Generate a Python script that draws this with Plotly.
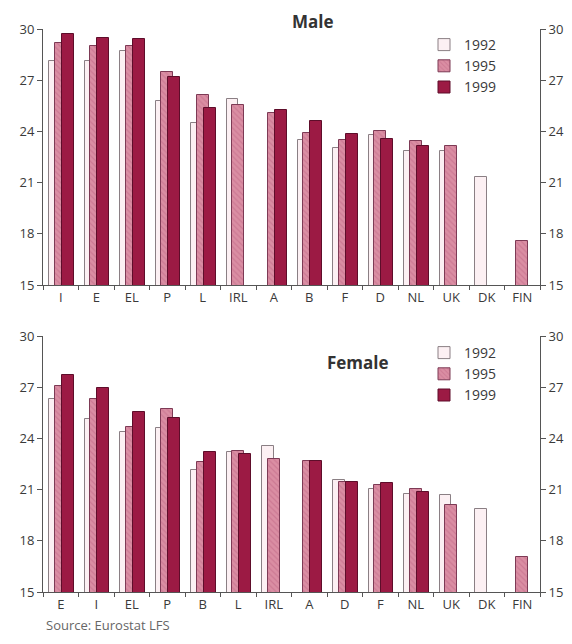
import plotly.graph_objects as go

years = ["1992", "1995", "1999"]

male_cats = ["I", "E", "EL", "P", "L", "IRL", "A", "B", "F", "D", "NL", "UK", "DK", "FIN"]
male_1992 = [28.1, 28.1, 28.7, 25.8, 24.5, 25.9, None, 23.5, 23.05, 23.8, 22.85, 22.85, 21.3, None]
male_1995 = [29.2, 29.0, 29.0, 27.5, 26.15, 25.55, 25.1, 23.9, 23.5, 24.0, 23.45, 23.15, None, 17.55]
male_1999 = [29.7, 29.45, 29.4, 27.2, 25.4, None, 25.25, 24.6, 23.85, 23.57, 23.15, None, None, None]

female_cats = ["E", "I", "EL", "P", "B", "L", "IRL", "A", "D", "F", "NL", "UK", "DK", "FIN"]
female_1992 = [26.3, 25.12, 24.4, 24.6, 22.16, 23.2, 23.57, None, 21.55, 21.05, 20.75, 20.68, 19.85, None]
female_1995 = [27.05, 26.3, 24.67, 25.7, 22.6, 23.28, 22.78, 22.65, 21.47, 21.27, 21.05, 20.07, None, 17.05]
female_1999 = [27.72, 26.95, 25.55, 25.2, 23.2, 23.06, None, 22.65, 21.47, 21.4, 20.88, None, None, None]

y_ticks = [15, 18, 21, 24, 27, 30]

FONT = "Open Sans"
TXT = "#3a3a3a"
AX = "#555555"

# the page body has an 8px margin, so the figure is 16px smaller than the window
W, H = 556, 628
OFF = 8


def px(xr):
    return (xr - OFF) / W


def py(yr):
    return 1 - (yr - OFF) / H


styles = {
    "1992": dict(color="#fcf0f3", line=dict(color="#8a7f84", width=1), pattern=None),
    "1995": dict(color="#da8ea3", line=dict(color="#7d3a55", width=1),
                 pattern=dict(shape="\\", fgcolor="#bf6585", size=4, solidity=0.3)),
    "1999": dict(color="#9c1a44", line=dict(color="#5e0d2a", width=1), pattern=None),
}
offsets = {"1992": -0.33, "1995": -0.165, "1999": 0.03}
width = 0.33

fig = go.Figure()

panels = [
    (male_cats, [male_1992, male_1995, male_1999], "x", "y", "y3", "legend"),
    (female_cats, [female_1992, female_1995, female_1999], "x2", "y2", "y4", "legend2"),
]
for cats, series, xa, ya, ya_right, lg in panels:
    for yr, vals in zip(years, series):
        st = styles[yr]
        marker = dict(color=st["color"], line=st["line"])
        if st["pattern"]:
            marker["pattern"] = st["pattern"]
        fig.add_trace(go.Bar(
            x=cats, y=vals, name=yr, xaxis=xa, yaxis=ya,
            offset=offsets[yr], width=width, marker=marker,
            legend=lg, legendgroup=lg + yr, showlegend=True,
            hoverinfo="x+y+name",
        ))
    # empty trace so that the right-hand mirror axis is drawn
    fig.add_trace(go.Scatter(x=[], y=[], xaxis=xa, yaxis=ya_right,
                             showlegend=False, hoverinfo="skip"))

xdom = [px(43), px(540)]
top_dom = [py(285), py(29)]
bot_dom = [py(592), py(336)]


def xax(anchor, cats):
    return dict(domain=xdom, anchor=anchor, type="category", categoryorder="array",
                categoryarray=cats, range=[-0.5, 13.5], showline=True, linecolor=AX,
                linewidth=1, ticks="outside", tickson="boundaries", ticklen=4,
                tickcolor=AX, tickfont=dict(family=FONT, size=13, color=TXT),
                showgrid=False, zeroline=False, fixedrange=True)


def yax(dom, anchor, side="left", overlaying=None):
    d = dict(range=[15, 30], tickvals=y_ticks, showline=True, linecolor=AX, linewidth=1,
             ticks="outside", ticklen=5, tickcolor=AX, side=side, anchor=anchor,
             tickfont=dict(family=FONT, size=13, color=TXT),
             showgrid=False, zeroline=False, fixedrange=True)
    if overlaying:
        d["overlaying"] = overlaying
    else:
        d["domain"] = dom
    return d


legend_common = dict(
    font=dict(family=FONT, size=14, color=TXT),
    bgcolor="rgba(0,0,0,0)", traceorder="normal", tracegroupgap=8.5,
    itemwidth=30, xanchor="left", yanchor="top", itemclick=False, itemdoubleclick=False,
)

fig.update_layout(
    width=W, height=H,
    margin=dict(l=0, r=0, t=0, b=0, autoexpand=False),
    paper_bgcolor="white", plot_bgcolor="white",
    barmode="overlay",
    bargap=0,
    xaxis=xax("y", male_cats),
    yaxis=yax(top_dom, "x"),
    yaxis3=yax(None, "x", side="right", overlaying="y"),
    xaxis2=xax("y2", female_cats),
    yaxis2=yax(bot_dom, "x2"),
    yaxis4=yax(None, "x2", side="right", overlaying="y2"),
    legend=dict(x=px(424), y=py(29), **legend_common),
    legend2=dict(x=px(424), y=py(337), **legend_common),
    annotations=[
        dict(text="<b>Male</b>", x=px(313), y=1, xref="paper", yref="paper",
             xanchor="center", yanchor="top", showarrow=False,
             font=dict(family=FONT, size=17, color="#333333")),
        dict(text="<b>Female</b>", x=px(358), y=py(362), xref="paper", yref="paper",
             xanchor="center", yanchor="middle", showarrow=False,
             font=dict(family=FONT, size=17, color="#333333")),
        dict(text="Source: Eurostat LFS", x=px(44), y=0, xref="paper", yref="paper",
             xanchor="left", yanchor="bottom", showarrow=False,
             font=dict(family=FONT, size=13, color="#666666")),
    ],
)

fig.write_html("out.html")
